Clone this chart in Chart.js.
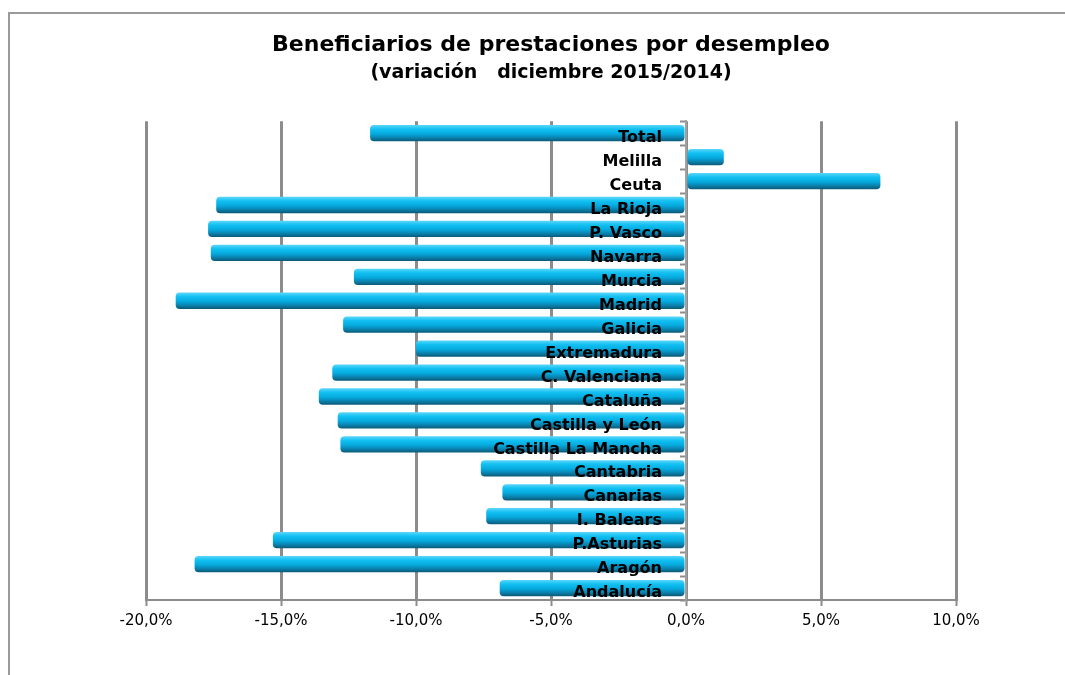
<!DOCTYPE html>
<html>
<head>
<meta charset="utf-8">
<script src="https://cdn.jsdelivr.net/npm/chart.js@4"></script>
<style>
  html, body { margin: 0; padding: 0; background: #fff; }
  #wrap { position: relative; width: 1065px; height: 675px; overflow: hidden; }
  #frame { position: absolute; left: 8px; top: 12px; width: 1100px; height: 700px;
           border-top: 2px solid #9a9a9a; border-left: 2px solid #9a9a9a; }
  canvas { position: absolute; left: 0; top: 0; }
</style>
</head>
<body>
<div id="wrap">
  <div id="frame"></div>
  <canvas id="barChart" width="1065" height="675"></canvas>
</div>
<script>
// regions, top to bottom as in the picture
const regiones = ["Total", "Melilla", "Ceuta", "La Rioja", "P. Vasco", "Navarra", "Murcia",
  "Madrid", "Galicia", "Extremadura", "C. Valenciana", "Cataluña", "Castilla y León",
  "Castilla La Mancha", "Cantabria", "Canarias", "I. Balears", "P.Asturias", "Aragón", "Andalucía"];
// variación diciembre 2015/2014, in %
const variacion = [-11.7, 1.4, 7.2, -17.4, -17.7, -17.6, -12.3,
  -18.9, -12.7, -10.0, -13.1, -13.6, -12.9,
  -12.8, -7.6, -6.8, -7.4, -15.3, -18.2, -6.9];
const ejeMin = -20, ejeMax = 10, ejePaso = 5;

const titulo = "Beneficiarios de prestaciones por desempleo";
const subtitulo = "(variación   diciembre 2015/2014)";

function barFill(context){
  const chart = context.chart;
  const ys = chart.scales.y;
  if (!ys || context.dataIndex === undefined || !chart.chartArea) return '#0BB4EA';
  const c = ys.getPixelForValue(context.dataIndex);
  const h = 8;
  const g = chart.ctx.createLinearGradient(0, c - h, 0, c + h);
  g.addColorStop(0, '#5AD6FA');
  g.addColorStop(0.25, '#12C0F2');
  g.addColorStop(0.55, '#06A9DE');
  g.addColorStop(0.8, '#0A7FAA');
  g.addColorStop(1, '#0B5A78');
  return g;
}

const ctx = document.getElementById('barChart');
new Chart(ctx, {
  type: 'bar',
  data: {
    labels: regiones,
    datasets: [{
      label: 'Variación',
      data: variacion,
      backgroundColor: barFill,
      borderWidth: 0,
      borderRadius: 4,
      borderSkipped: false,
      barPercentage: 0.68,
      categoryPercentage: 1
    }]
  },
  options: {
    indexAxis: 'y',
    responsive: false,
    animation: false,
    layout: { padding: { left: 146, right: 109, top: 24, bottom: 39 } },
    plugins: {
      legend: { display: false },
      tooltip: { enabled: false },
      title: {
        display: true,
        text: titulo,
        color: '#000',
        font: { family: 'DejaVu Sans', size: 22, weight: 'bold', lineHeight: 1.2 },
        padding: { top: 8, bottom: 0 }
      },
      subtitle: {
        display: true,
        text: subtitulo,
        color: '#000',
        font: { family: 'DejaVu Sans', size: 19, weight: 'bold', lineHeight: 1.2 },
        padding: { top: 3, bottom: 37 }
      }
    },
    scales: {
      x: {
        min: ejeMin,
        max: ejeMax,
        ticks: {
          stepSize: ejePaso,
          color: '#000',
          padding: 6,
          font: { family: 'DejaVu Sans', size: 15 },
          callback: v => v.toFixed(1).replace('.', ',') + '%'
        },
        grid: { color: '#8c8c8c', lineWidth: 3, tickLength: 6, tickColor: '#8c8c8c', tickWidth: 2 },
        border: { display: true, color: '#8c8c8c', width: 2 }
      },
      y: {
        position: { x: 0 },
        ticks: {
          z: 1,
          color: '#000',
          labelOffset: 5,
          font: { family: 'DejaVu Sans', size: 16, weight: 'bold' },
          // keep the names a little left of the zero line, as in the original
          callback: (v, i) => regiones[i] + '\u2002\u2002\u2002'
        },
        grid: { drawOnChartArea: false, color: '#8c8c8c', tickLength: 5, tickWidth: 2 },
        border: { display: true, color: '#a0a0a0', width: 2 }
      }
    }
  }
});
</script>
</body>
</html>
